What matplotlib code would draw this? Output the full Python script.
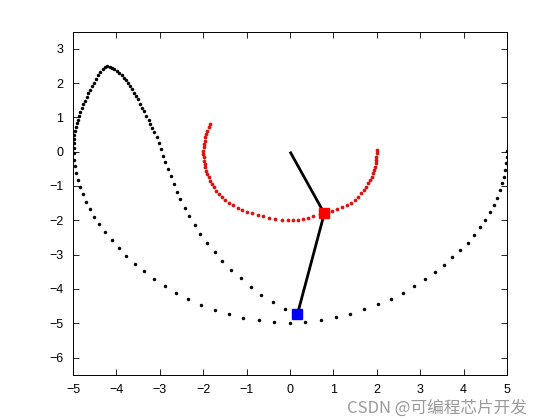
import matplotlib
matplotlib.use("Agg")
import matplotlib.pyplot as plt

# ---- data (data units) ----
# path of the second (outer) bob, in time order
bob2_x = [4.99, 4.99, 4.98, 4.95, 4.93, 4.89, 4.84, 4.78, 4.71, 4.61, 4.50, 4.38, 4.24, 4.09,
          3.92, 3.74, 3.55, 3.34, 3.10, 2.86, 2.60, 2.32, 2.02, 1.71, 1.38, 1.05, 0.71, 0.35,
          -0.01, -0.37, -0.72, -1.08, -1.41, -1.74, -2.05, -2.35, -2.63, -2.89, -3.13, -3.36,
          -3.58, -3.77, -3.95, -4.11, -4.26, -4.39, -4.51, -4.61, -4.70, -4.77, -4.84, -4.89,
          -4.94, -4.96, -4.98, -4.98, -4.98, -4.98, -4.97, -4.97, -4.95, -4.94, -4.91, -4.89,
          -4.86, -4.83, -4.80, -4.76, -4.72, -4.68, -4.65, -4.61, -4.56, -4.52, -4.47, -4.42,
          -4.37, -4.32, -4.26, -4.21, -4.15, -4.10, -4.05, -3.99, -3.94, -3.88, -3.82, -3.78,
          -3.73, -3.68, -3.63, -3.59, -3.54, -3.50, -3.45, -3.40, -3.36, -3.31, -3.26, -3.22,
          -3.17, -3.13, -3.07, -3.03, -2.97, -2.93, -2.87, -2.81, -2.75, -2.68, -2.61, -2.53,
          -2.43, -2.32, -2.20, -2.07, -1.91, -1.74, -1.56, -1.35, -1.14, -0.91, -0.66, -0.39,
          -0.11]
bob2_y = [0.02, -0.15, -0.34, -0.53, -0.73, -0.92, -1.13, -1.34, -1.56, -1.76, -1.99, -2.20,
          -2.43, -2.65, -2.86, -3.08, -3.30, -3.51, -3.72, -3.92, -4.11, -4.29, -4.45, -4.59,
          -4.72, -4.83, -4.91, -4.96, -4.98, -4.96, -4.92, -4.84, -4.74, -4.61, -4.46, -4.29,
          -4.11, -3.91, -3.70, -3.49, -3.27, -3.04, -2.82, -2.58, -2.35, -2.12, -1.90, -1.67,
          -1.46, -1.23, -1.02, -0.82, -0.61, -0.42, -0.23, -0.04, 0.12, 0.24, 0.37, 0.49, 0.60,
          0.73, 0.83, 0.92, 1.04, 1.15, 1.27, 1.38, 1.49, 1.59, 1.70, 1.81, 1.92, 2.01, 2.12,
          2.22, 2.31, 2.40, 2.46, 2.49, 2.48, 2.45, 2.41, 2.36, 2.30, 2.24, 2.16, 2.09, 2.00,
          1.92, 1.83, 1.72, 1.62, 1.52, 1.40, 1.28, 1.17, 1.05, 0.93, 0.82, 0.69, 0.57, 0.42,
          0.25, 0.07, -0.12, -0.31, -0.51, -0.71, -0.93, -1.17, -1.39, -1.63, -1.88, -2.14,
          -2.40, -2.66, -2.92, -3.18, -3.44, -3.69, -3.94, -4.17, -4.39, -4.59]

# path of the first (inner) bob, in time order
bob1_x = [2.00, 2.00, 1.99, 1.98, 1.97, 1.96, 1.94, 1.91, 1.88, 1.84, 1.80, 1.75, 1.70, 1.64,
          1.57, 1.49, 1.41, 1.31, 1.20, 1.09, 0.97, 0.87, 0.69, 0.54, 0.42, 0.31, 0.19, 0.08,
          -0.04, -0.19, -0.34, -0.48, -0.62, -0.74, -0.87, -0.99, -1.11, -1.21, -1.31, -1.41,
          -1.49, -1.57, -1.64, -1.70, -1.75, -1.80, -1.84, -1.87, -1.91, -1.93, -1.95, -1.97,
          -1.98, -1.99, -2.00, -2.00, -1.99, -1.98, -1.97, -1.95, -1.93, -1.91, -1.87, -1.84]
bob1_y = [0.05, -0.05, -0.15, -0.24, -0.34, -0.44, -0.53, -0.63, -0.73, -0.83, -0.92, -1.02,
          -1.12, -1.21, -1.31, -1.41, -1.49, -1.55, -1.62, -1.67, -1.72, -1.76, -1.83, -1.89,
          -1.93, -1.96, -1.98, -1.99, -1.99, -1.98, -1.96, -1.93, -1.89, -1.85, -1.80, -1.75,
          -1.69, -1.63, -1.56, -1.49, -1.41, -1.33, -1.23, -1.14, -1.04, -0.94, -0.85, -0.75,
          -0.65, -0.55, -0.45, -0.36, -0.26, -0.16, -0.07, 0.03, 0.13, 0.22, 0.32, 0.42, 0.52,
          0.61, 0.71, 0.81]

# current pendulum configuration: pivot, bob 1, bob 2
pivot = (0.0, 0.0)
bob1_now = (0.79, -1.80)
bob2_now = (0.17, -4.74)

x_ticks = [-5, -4, -3, -2, -1, 0, 1, 2, 3, 4, 5]
y_ticks = [-6, -5, -4, -3, -2, -1, 0, 1, 2, 3]

plt.rcParams['font.family'] = ['Liberation Sans', 'DejaVu Sans']

fig = plt.figure(figsize=(5.6, 4.2), dpi=100)
ax = fig.add_axes([0.1304, 0.1079, 0.775, 0.817])

ax.plot(bob2_x, bob2_y, linestyle='none', marker='o', markersize=2.5,
        markerfacecolor='black', markeredgecolor='none')
ax.plot(bob1_x, bob1_y, linestyle='none', marker='o', markersize=2.7,
        markerfacecolor='#e01010', markeredgecolor='none')

ax.plot([pivot[0], bob1_now[0], bob2_now[0]], [pivot[1], bob1_now[1], bob2_now[1]],
        color='black', linewidth=2, solid_capstyle='butt', zorder=3)
ax.plot([bob1_now[0]], [bob1_now[1]], marker='s', markersize=7.5,
        markerfacecolor='red', markeredgecolor='red', zorder=4)
ax.plot([bob2_now[0]], [bob2_now[1]], marker='s', markersize=7.5,
        markerfacecolor='blue', markeredgecolor='blue', zorder=4)

ax.set_xlim(-5, 5)
ax.set_ylim(-6.5, 3.5)
ax.set_xticks(x_ticks)
ax.set_yticks(y_ticks)
ax.tick_params(direction='in', length=4, width=0.6, top=True, right=True,
               labelsize=9, pad=7)
for s in ax.spines.values():
    s.set_linewidth(0.7)

fig.text(0.94, 0.028, 'CSDN @可编程芯片开发', ha='right', va='center',
         fontsize=12, color='#9a9a9a',
         family=['Noto Sans CJK SC', 'DejaVu Sans'])

fig.savefig('out.png', dpi=100)
